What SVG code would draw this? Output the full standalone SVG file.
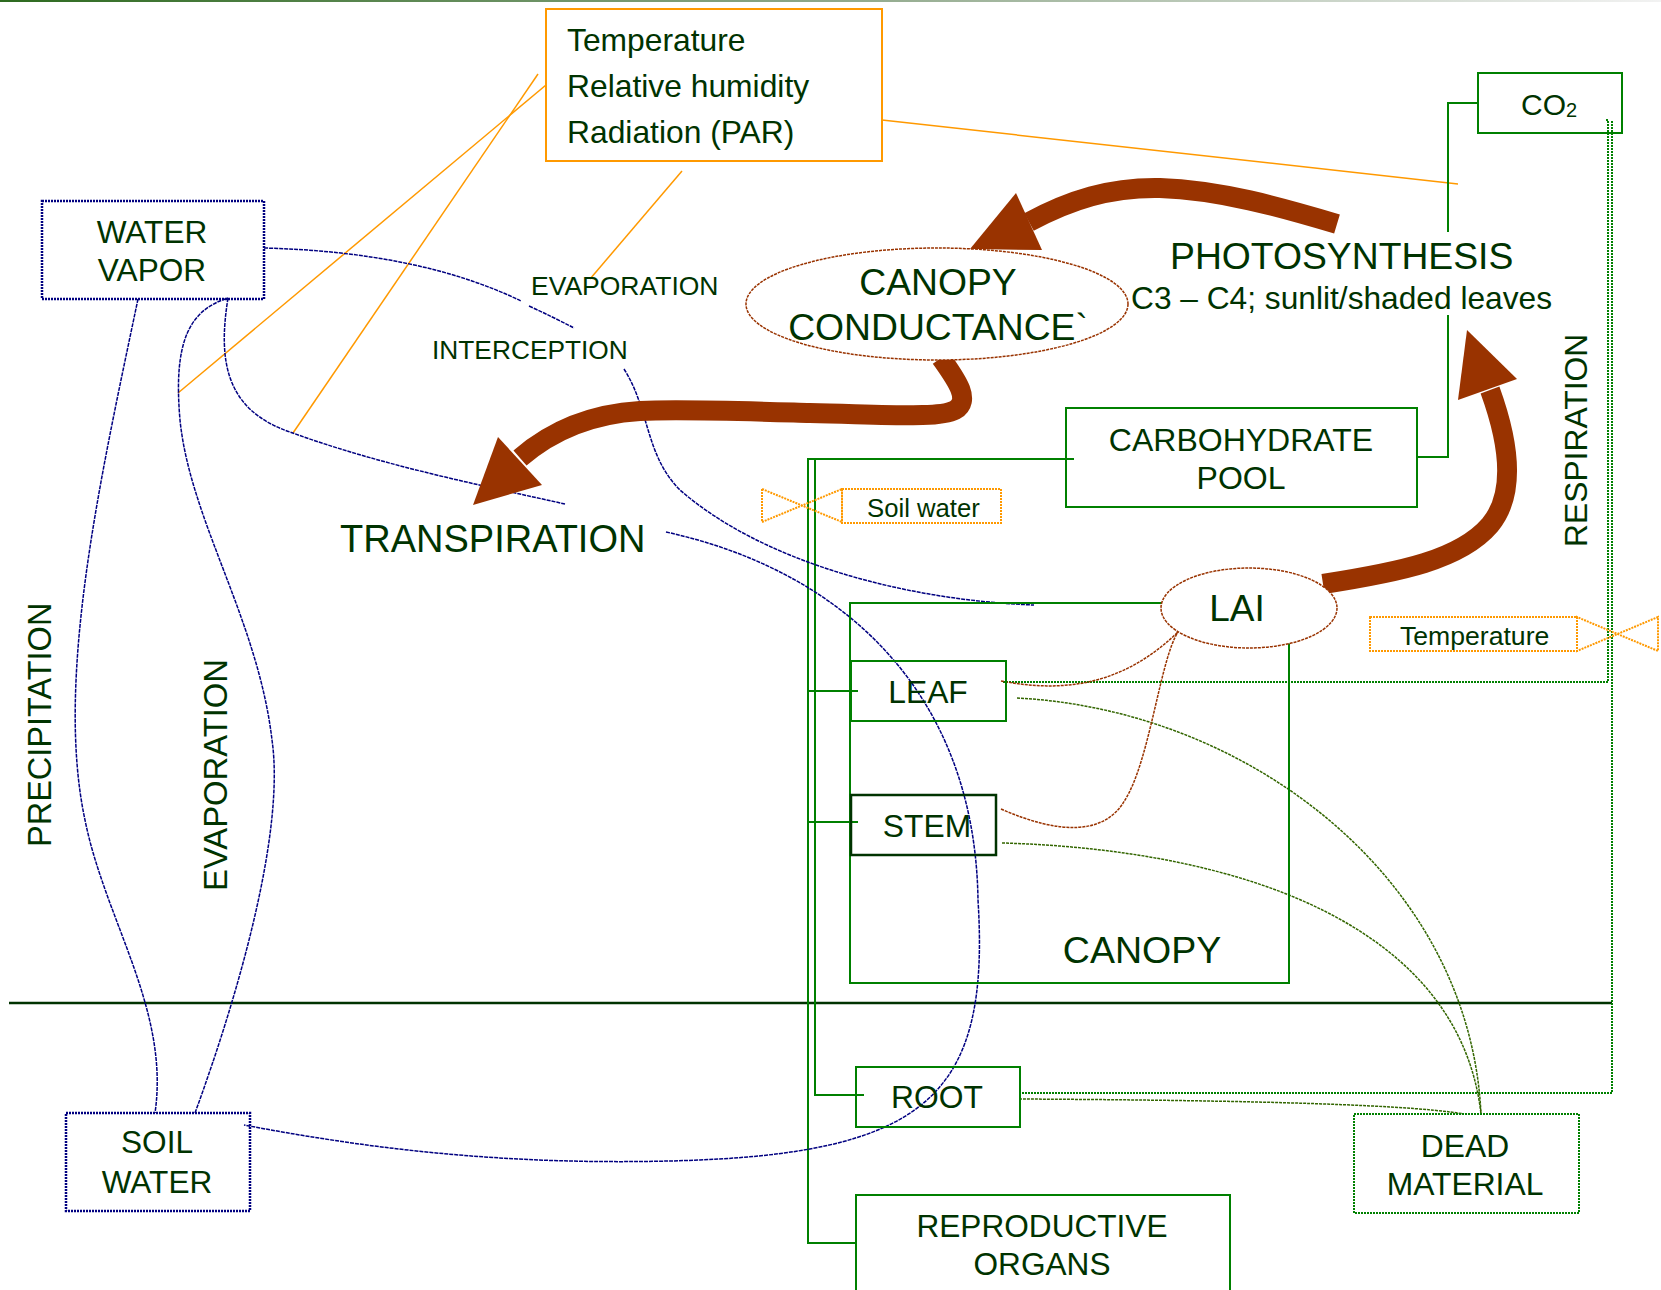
<svg xmlns="http://www.w3.org/2000/svg" width="1661" height="1290" viewBox="0 0 1661 1290">
<defs>
<linearGradient id="topg" x1="0" y1="0" x2="1" y2="0">
<stop offset="0" stop-color="#2D6A1F"/><stop offset="0.5" stop-color="#8FA88A"/><stop offset="1" stop-color="#F2F2F2"/>
</linearGradient>
<style>
.t{font-family:'Liberation Sans',Arial,sans-serif;fill:#003300}
.m{text-anchor:middle}
.box{fill:none;stroke:#008000;stroke-width:2}
.navy{fill:none;stroke:#000080;stroke-width:2.5;stroke-dasharray:2 1}
.orng{fill:none;stroke:#FF9900;stroke-width:2}
.orngd{fill:none;stroke:#FF9900;stroke-width:2;stroke-dasharray:2 1}
.ol{fill:none;stroke:#FF9900;stroke-width:1.5}
.blue{fill:none;stroke:#000080;stroke-width:1.5;stroke-dasharray:4 1}
.gl{fill:none;stroke:#008000;stroke-width:2}
.resp{fill:none;stroke:#008000;stroke-width:2;stroke-dasharray:2 1}
.olive{fill:none;stroke:#336600;stroke-width:1.5;stroke-dasharray:3 1}
.brn{fill:none;stroke:#993300;stroke-width:1.5;stroke-dasharray:3 1}
.ell{fill:#FFFFFF;stroke:#993300;stroke-width:1.5;stroke-dasharray:3 1}
.shaft{fill:none;stroke:#993300;stroke-width:20;stroke-linejoin:round}
.head{fill:#993300}
</style>
</defs>
<rect width="1661" height="1290" fill="#FFFFFF"/>
<rect x="0" y="0" width="1661" height="2" fill="url(#topg)"/>
<line x1="9" y1="1003" x2="1612" y2="1003" stroke="#003300" stroke-width="2.5"/>

<g id="connectors">
<!-- orange influence lines -->
<line class="ol" x1="538" y1="74" x2="293" y2="433"/>
<line class="ol" x1="546" y1="85" x2="178" y2="393"/>
<line class="ol" x1="682" y1="171" x2="590" y2="279"/>
<line class="ol" x1="882" y1="120" x2="1458" y2="184"/>
<!-- green structure lines -->
<path class="gl" d="M1478,103 H1448 V232"/>
<path class="gl" d="M1448,315 V457 H1417"/>
<path class="gl" stroke-width="3" d="M1074,459 H808 V1243 H856"/>
<path class="gl" stroke-width="1.5" d="M815,459 V1095 H864"/>
<path class="gl" d="M808,691 H858 M808,822 H858"/>
<!-- respiration -->
<path class="resp" d="M1606,120 H1608 V682 H1003"/>
<path class="resp" d="M1612,121 V1093 H1019"/>
<!-- water (navy) -->
<path class="blue" d="M264,248 Q420,252 521,301"/>
<path class="blue" d="M529,306 Q555,318 574,328"/>
<path class="blue" d="M624,369 C650,410 645,455 680,490 C760,560 900,600 1034,605"/>
<path class="blue" d="M228,298 C218,360 225,410 290,432 C380,465 480,485 565,504"/>
<path class="blue" d="M666,532 C840,570 975,690 978,900 C990,1090 930,1150 700,1160 C500,1168 350,1145 244,1125"/>
<path class="blue" d="M138,299 C100,480 55,680 85,820 C105,920 170,1010 155,1113"/>
<path class="blue" d="M195,1113 C240,990 285,830 272,740 C258,620 190,520 180,420 C173,340 190,310 228,298"/>
<!-- to dead material -->
<path class="olive" d="M1017,698 C1250,710 1470,880 1481,1114"/>
<path class="olive" d="M1002,843 C1250,850 1460,930 1481,1114"/>
<path class="olive" stroke-width="2.5" d="M1019,1099 C1200,1100 1400,1103 1464,1114"/>
<!-- LAI links -->
<path class="brn" d="M1001,681 C1060,692 1120,688 1178,632"/>
<path class="brn" d="M1001,809 C1060,835 1105,835 1125,800 C1150,760 1160,660 1178,632"/>
<!-- thick arrows -->
<path class="shaft" d="M1337,224 C1280,207 1220,190 1160,188 C1110,187 1070,200 1029,222"/>
<polygon class="head" points="970,249 1016,193 1042,250"/>
<path class="shaft" d="M941,358 C955,378 972,400 955,410 C940,418 900,415 810,413 C740,411 680,409 640,411 C590,414 550,432 520,458"/>
<polygon class="head" points="473,505 498,437 542,485"/>
<path class="shaft" stroke-width="18" d="M1323,584 C1400,572 1460,560 1490,525 C1515,495 1510,445 1490,390"/>
<polygon class="head" points="1467,330 1458,400 1517,379"/>
</g>

<g id="weather">
<rect class="orng" x="546" y="9" width="336" height="152"/>
<text class="t" x="567" y="51" font-size="31.8">Temperature</text>
<text class="t" x="567" y="97" font-size="31.8">Relative humidity</text>
<text class="t" x="567" y="143" font-size="31.8">Radiation (PAR)</text>
</g>

<g id="water-vapor">
<rect class="navy" x="42" y="201" width="222" height="98"/>
<text class="t m" x="152" y="243" font-size="31.6">WATER</text>
<text class="t m" x="152" y="281" font-size="31.6">VAPOR</text>
</g>

<g id="soil-water">
<rect class="navy" x="66" y="1113" width="184" height="98"/>
<text class="t m" x="157" y="1153" font-size="31.6">SOIL</text>
<text class="t m" x="157" y="1193" font-size="31.6">WATER</text>
</g>

<g id="co2">
<rect class="box" stroke-width="2.5" x="1478" y="73" width="144" height="60"/>
<text class="t" x="1521" y="115" font-size="30">CO<tspan font-size="20" dy="2">2</tspan></text>
</g>

<g id="canopy-conductance">
<ellipse class="ell" cx="937" cy="304" rx="191" ry="56"/>
<text class="t m" x="938" y="295" font-size="37.3">CANOPY</text>
<text class="t m" x="938" y="340" font-size="37.3">CONDUCTANCE`</text>
</g>

<g id="photosynthesis">
<text class="t" x="1170" y="269" font-size="37.3">PHOTOSYNTHESIS</text>
<text class="t" x="1131" y="309" font-size="31.7">C3 – C4; sunlit/shaded leaves</text>
</g>

<g id="carbohydrate-pool">
<rect class="box" x="1066" y="408" width="351" height="99"/>
<text class="t m" x="1241" y="451" font-size="32">CARBOHYDRATE</text>
<text class="t m" x="1241" y="489" font-size="32">POOL</text>
</g>

<g id="soil-water-valve">
<path class="orngd" d="M762,489 V522 L842,489 V522 Z"/>
<rect class="orngd" x="842" y="489" width="159" height="34"/>
<text class="t" x="867" y="517" font-size="25.7">Soil water</text>
</g>

<g id="temperature-valve">
<rect class="orngd" x="1370" y="617" width="207" height="34"/>
<path class="orngd" d="M1577,617 V651 L1658,617 V651 Z"/>
<text class="t" x="1400" y="645" font-size="26.6">Temperature</text>
</g>

<g id="canopy">
<rect class="box" x="850" y="603" width="439" height="380"/>
<text class="t m" x="1142" y="963" font-size="37.5">CANOPY</text>
</g>

<g id="lai">
<ellipse class="ell" cx="1249" cy="608" rx="88" ry="40"/>
<text class="t m" x="1237" y="621" font-size="37">LAI</text>
</g>

<g id="leaf">
<rect class="box" x="851" y="661" width="155" height="60"/>
<text class="t m" x="928" y="703" font-size="31.8">LEAF</text>
</g>

<g id="stem">
<rect fill="none" stroke="#003300" stroke-width="2.5" x="851" y="795" width="145" height="60"/>
<text class="t m" x="927" y="837" font-size="31.8">STEM</text>
</g>

<g id="root">
<rect class="box" x="856" y="1067" width="164" height="60"/>
<text class="t m" x="937" y="1108" font-size="31.8">ROOT</text>
</g>

<g id="dead-material">
<rect class="resp" x="1354" y="1114" width="225" height="99"/>
<text class="t m" x="1465" y="1157" font-size="31.8">DEAD</text>
<text class="t m" x="1465" y="1195" font-size="31.8">MATERIAL</text>
</g>

<g id="reproductive-organs">
<rect class="box" x="856" y="1195" width="374" height="130"/>
<text class="t m" x="1042" y="1237" font-size="31.6">REPRODUCTIVE</text>
<text class="t m" x="1042" y="1275" font-size="31.6">ORGANS</text>
</g>

<g id="labels">
<text class="t" x="531" y="295" font-size="26.5">EVAPORATION</text>
<text class="t" x="432" y="359" font-size="26.3">INTERCEPTION</text>
<text class="t" x="340" y="552" font-size="38">TRANSPIRATION</text>
<text class="t" x="51" y="847" font-size="32.5" transform="rotate(-90 51 847)">PRECIPITATION</text>
<text class="t" x="227" y="891" font-size="32.8" transform="rotate(-90 227 891)">EVAPORATION</text>
<text class="t" x="1587" y="547" font-size="31.8" transform="rotate(-90 1587 547)">RESPIRATION</text>
</g>
</svg>
